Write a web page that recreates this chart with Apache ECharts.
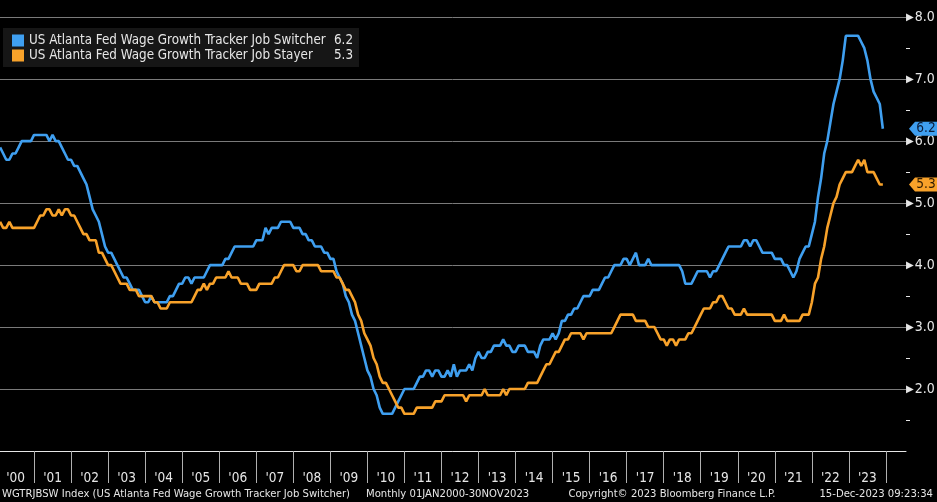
<!DOCTYPE html>
<html>
<head>
<meta charset="utf-8">
<script src="https://cdn.jsdelivr.net/npm/echarts@6/dist/echarts.min.js"></script>
<style>
html,body{margin:0;padding:0;background:#000;overflow:hidden;}
#chart{width:937px;height:502px;}
</style>
</head>
<body>
<div id="chart"></div>
<script>
// ---------- data ----------
const seriesNames = [
  'US Atlanta Fed Wage Growth Tracker Job Switcher',
  'US Atlanta Fed Wage Growth Tracker Job Stayer'
];
const yearLabels = ["'00","'01","'02","'03","'04","'05","'06","'07","'08","'09","'10","'11",
                    "'12","'13","'14","'15","'16","'17","'18","'19","'20","'21","'22","'23"];
// monthly values Jan 2000 .. Nov 2023
const switcher = [
  5.9,5.8,5.7,5.7,5.8,5.8,5.9,6.0,6.0,6.0,6.0,6.1,
  6.1,6.1,6.1,6.1,6.0,6.1,6.0,6.0,5.9,5.8,5.7,5.7,
  5.6,5.6,5.5,5.4,5.3,5.1,4.9,4.8,4.7,4.5,4.3,4.2,
  4.2,4.1,4.0,3.9,3.8,3.8,3.7,3.6,3.6,3.6,3.5,3.4,
  3.4,3.5,3.4,3.4,3.4,3.4,3.4,3.5,3.5,3.6,3.7,3.7,
  3.8,3.8,3.7,3.8,3.8,3.8,3.8,3.9,4.0,4.0,4.0,4.0,
  4.0,4.1,4.1,4.2,4.3,4.3,4.3,4.3,4.3,4.3,4.3,4.4,
  4.4,4.4,4.6,4.5,4.6,4.6,4.6,4.7,4.7,4.7,4.7,4.6,
  4.6,4.6,4.5,4.5,4.4,4.4,4.3,4.3,4.3,4.2,4.2,4.1,
  4.1,3.9,3.8,3.7,3.5,3.4,3.2,3.1,2.9,2.7,2.5,2.3,
  2.2,2.0,1.9,1.7,1.6,1.6,1.6,1.6,1.7,1.8,1.9,2.0,
  2.0,2.0,2.0,2.1,2.2,2.2,2.3,2.3,2.2,2.3,2.3,2.2,
  2.2,2.3,2.2,2.4,2.2,2.3,2.3,2.3,2.4,2.3,2.5,2.6,
  2.5,2.5,2.6,2.6,2.7,2.7,2.7,2.8,2.7,2.7,2.6,2.6,
  2.7,2.7,2.7,2.6,2.6,2.6,2.5,2.7,2.8,2.8,2.8,2.9,
  2.8,2.9,3.1,3.1,3.2,3.2,3.3,3.3,3.4,3.5,3.5,3.5,
  3.6,3.6,3.6,3.7,3.8,3.8,3.9,4.0,4.0,4.0,4.1,4.1,
  4.0,4.1,4.2,4.0,4.0,4.0,4.1,4.0,4.0,4.0,4.0,4.0,
  4.0,4.0,4.0,4.0,4.0,3.9,3.7,3.7,3.7,3.8,3.9,3.9,
  3.9,3.9,3.8,3.9,3.9,4.0,4.1,4.2,4.3,4.3,4.3,4.3,
  4.3,4.4,4.4,4.3,4.4,4.4,4.3,4.2,4.2,4.2,4.2,4.1,
  4.1,4.1,4.0,4.0,3.9,3.8,3.9,4.1,4.2,4.3,4.3,4.5,
  4.7,5.1,5.4,5.8,6.0,6.3,6.6,6.8,7.0,7.3,7.7,7.7,
  7.7,7.7,7.7,7.6,7.5,7.3,7.0,6.8,6.7,6.6,6.2
];
const stayer = [
  4.7,4.6,4.6,4.7,4.6,4.6,4.6,4.6,4.6,4.6,4.6,4.6,
  4.7,4.8,4.8,4.9,4.9,4.8,4.8,4.9,4.8,4.9,4.9,4.8,
  4.8,4.7,4.6,4.5,4.5,4.4,4.4,4.4,4.2,4.2,4.1,4.0,
  4.0,3.9,3.8,3.7,3.7,3.7,3.6,3.6,3.6,3.5,3.5,3.5,
  3.5,3.5,3.4,3.4,3.3,3.3,3.3,3.4,3.4,3.4,3.4,3.4,
  3.4,3.4,3.4,3.5,3.6,3.6,3.7,3.6,3.7,3.7,3.8,3.8,
  3.8,3.8,3.9,3.8,3.8,3.8,3.7,3.7,3.7,3.6,3.6,3.6,
  3.7,3.7,3.7,3.7,3.7,3.8,3.8,3.9,4.0,4.0,4.0,4.0,
  3.9,3.9,4.0,4.0,4.0,4.0,4.0,4.0,3.9,3.9,3.9,3.9,
  3.9,3.8,3.8,3.7,3.6,3.6,3.5,3.4,3.2,3.1,2.9,2.8,
  2.7,2.5,2.4,2.2,2.1,2.1,2.0,1.9,1.8,1.7,1.7,1.6,
  1.6,1.6,1.6,1.7,1.7,1.7,1.7,1.7,1.7,1.8,1.8,1.8,
  1.9,1.9,1.9,1.9,1.9,1.9,1.9,1.8,1.9,1.9,1.9,1.9,
  1.9,2.0,1.9,1.9,1.9,1.9,1.9,2.0,1.9,2.0,2.0,2.0,
  2.0,2.0,2.0,2.1,2.1,2.1,2.1,2.2,2.3,2.4,2.4,2.5,
  2.6,2.6,2.7,2.8,2.8,2.9,2.9,2.9,2.9,2.8,2.9,2.9,
  2.9,2.9,2.9,2.9,2.9,2.9,2.9,3.0,3.1,3.2,3.2,3.2,
  3.2,3.2,3.1,3.1,3.1,3.1,3.0,3.0,3.0,2.9,2.8,2.8,
  2.7,2.8,2.8,2.7,2.8,2.8,2.8,2.9,2.9,3.0,3.1,3.2,
  3.3,3.3,3.3,3.4,3.4,3.5,3.5,3.4,3.3,3.3,3.2,3.2,
  3.2,3.3,3.2,3.2,3.2,3.2,3.2,3.2,3.2,3.2,3.2,3.1,
  3.1,3.1,3.2,3.1,3.1,3.1,3.1,3.1,3.2,3.2,3.2,3.4,
  3.7,3.8,4.1,4.3,4.6,4.8,5.0,5.1,5.3,5.4,5.5,5.5,
  5.5,5.6,5.7,5.6,5.7,5.5,5.5,5.5,5.4,5.3,5.3
];
const yLabelValues = [2,3,4,5,6,7,8];
const yMinorValues = [1.5,2.5,3.5,4.5,5.5,6.5,7.5];
const footerSource = 'WGTRJBSW Index (US Atlanta Fed Wage Growth Tracker Job Switcher)';
const footerRange = 'Monthly 01JAN2000-30NOV2023';
const footerCopy = 'Copyright\u00a9 2023 Bloomberg Finance L.P.';
const footerStamp = '15-Dec-2023 09:23:34';

// ---------- styling ----------
const FONT = '"DejaVu Sans Condensed", "DejaVu Sans", sans-serif';
const TXT = '#e6e6e6';
const BLUE = '#3f9ff0';
const ORANGE = '#f8a22a';
const X_MAX = 294.5;     // months from Jan-2000 start to right edge
const Y_MIN = 1, Y_MAX = 8.31;

const lastSw = switcher[switcher.length - 1];
const lastSt = stayer[stayer.length - 1];
const toPts = arr => arr.map((v, i) => [i + 1, v]); // month-end positions

const tag = 'path://M0,7 L6,0 L30,0 L30,14 L6,14 Z';

const chart = echarts.init(document.getElementById('chart'), null, {renderer: 'canvas'});
chart.setOption({
  backgroundColor: '#000',
  animation: false,
  textStyle: {fontFamily: FONT},
  grid: {left: -3, right: 31, top: -2, bottom: 51, containLabel: false, outerBoundsMode: 'none'},
  legend: {
    orient: 'vertical', left: 3, top: 28,
    padding: [6, 6, 5, 9],
    backgroundColor: '#161616',
    itemWidth: 12, itemHeight: 12, itemGap: 2,
    icon: 'rect', selectedMode: false,
    data: seriesNames,
    formatter: name => {
      const v = name === seriesNames[0] ? lastSw : lastSt;
      return '{n|' + name + '}{v|' + v.toFixed(1) + '}';
    },
    textStyle: {
      color: TXT, fontSize: 13.3, fontFamily: FONT,
      rich: {
        n: {width: 300, fontSize: 13.3, lineHeight: 13, color: TXT, fontFamily: FONT},
        v: {width: 24, align: 'right', fontSize: 13.3, lineHeight: 13, color: TXT, fontFamily: FONT}
      }
    }
  },
  xAxis: {
    type: 'value', min: 0, max: X_MAX,
    axisLine: {show: true, lineStyle: {color: '#e6e6e6', width: 1}},
    axisTick: {show: true, customValues: yearLabels.map((_, k) => k * 12).concat([288]),
               length: 32, lineStyle: {color: '#b0b0b0', width: 1}},
    splitLine: {show: false},
    axisLabel: {
      customValues: yearLabels.map((_, k) => k * 12 + 6),
      formatter: v => yearLabels[Math.round((v - 6) / 12)] || '',
      color: TXT, fontSize: 13.5, fontFamily: FONT, margin: 20
    }
  },
  yAxis: [{
    type: 'value', position: 'right', min: Y_MIN, max: Y_MAX, interval: 1,
    axisLine: {show: true, lineStyle: {color: '#e6e6e6', width: 1}},
    axisTick: {show: false},
    splitLine: {show: true, lineStyle: {color: '#7a7a7a', width: 1}},
    axisLabel: {
      customValues: yLabelValues, margin: 0,
      formatter: v => '{t|\u25B6}{v|' + v.toFixed(1) + '}',
      rich: {
        t: {fontSize: 10, color: TXT, padding: [0, 1, 0, 0], fontFamily: 'DejaVu Sans'},
        v: {fontSize: 14, color: TXT, fontFamily: FONT}
      }
    }
  }, {
    type: 'value', position: 'right', min: Y_MIN, max: Y_MAX,
    axisLine: {show: false},
    axisTick: {show: true, customValues: yMinorValues, length: 4, lineStyle: {color: TXT, width: 1}},
    axisLabel: {show: false},
    splitLine: {show: false}
  }],
  series: [{
    name: seriesNames[0], type: 'line', data: toPts(switcher),
    symbol: 'none', showSymbol: false, clip: false,
    lineStyle: {color: BLUE, width: 2.6}, itemStyle: {color: BLUE},
    markPoint: {
      silent: true, symbol: tag, symbolSize: [30, 14], symbolOffset: [18, 0],
      itemStyle: {color: BLUE},
      label: {show: true, position: 'inside', formatter: lastSw.toFixed(1), color: '#0b1d3a', textBorderWidth: 0, fontSize: 13.5, fontFamily: FONT, offset: [2, 0]},
      data: [{coord: [X_MAX, lastSw]}]
    }
  }, {
    name: seriesNames[1], type: 'line', data: toPts(stayer),
    symbol: 'none', showSymbol: false, clip: false,
    lineStyle: {color: ORANGE, width: 2.6}, itemStyle: {color: ORANGE},
    markPoint: {
      silent: true, symbol: tag, symbolSize: [30, 14], symbolOffset: [18, 0],
      itemStyle: {color: ORANGE},
      label: {show: true, position: 'inside', formatter: lastSt.toFixed(1), color: '#2e1a00', textBorderWidth: 0, fontSize: 13.5, fontFamily: FONT, offset: [2, 0]},
      data: [{coord: [X_MAX, lastSt]}]
    }
  }],
  graphic: [
    {type: 'text', x: 2, y: 494, style: {text: footerSource, fill: TXT, fontSize: 11.2, fontFamily: FONT, align: 'left', verticalAlign: 'middle'}},
    {type: 'text', x: 366, y: 494, style: {text: footerRange, fill: TXT, fontSize: 11.2, fontFamily: FONT, align: 'left', verticalAlign: 'middle'}},
    {type: 'text', x: 672, y: 494, style: {text: footerCopy, fill: TXT, fontSize: 11.2, fontFamily: FONT, align: 'center', verticalAlign: 'middle'}},
    {type: 'text', x: 933, y: 494, style: {text: footerStamp, fill: TXT, fontSize: 11.2, fontFamily: FONT, align: 'right', verticalAlign: 'middle'}}
  ]
});
</script>
</body>
</html>
